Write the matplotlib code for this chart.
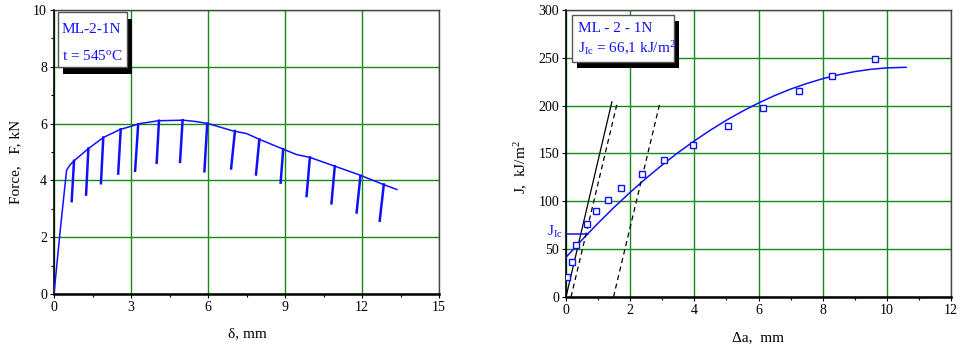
import matplotlib
matplotlib.use("Agg")
import matplotlib.pyplot as plt
from matplotlib.patches import Rectangle

plt.rcParams['font.family'] = ['Liberation Serif', 'DejaVu Serif']
plt.rcParams['mathtext.fontset'] = 'custom'
plt.rcParams['mathtext.rm'] = 'Liberation Serif'
plt.rcParams['mathtext.it'] = 'Liberation Serif:italic'

# --- left chart: force vs displacement ---
delta = [0, 0.23, 0.49, 0.62, 0.78, 1.34, 1.92, 2.57, 3.02, 3.35, 4.06, 5.04,
         5.55, 6.01, 6.98, 7.5, 8.02, 8.93, 9.45, 9.97, 10.94, 11.91, 12.82, 13.36]
force = [0, 2.13, 4.36, 4.54, 4.69, 5.12, 5.51, 5.79, 5.91, 6.0, 6.10, 6.12,
         6.07, 6.0, 5.74, 5.65, 5.44, 5.10, 4.91, 4.81, 4.50, 4.19, 3.86, 3.68]
# unloading segments: top (d, F) -> bottom (d, F)
unl_d_top = [0.78, 1.34, 1.92, 2.6, 3.28, 4.09, 5.01, 5.97, 7.05, 8.0, 8.93, 9.97, 10.94, 11.94, 12.85]
unl_f_top = [4.69, 5.12, 5.51, 5.80, 5.98, 6.10, 6.12, 6.0, 5.74, 5.44, 5.10, 4.81, 4.50, 4.16, 3.86]
unl_d_bot = [0.69, 1.25, 1.83, 2.5, 3.16, 4.0, 4.91, 5.86, 6.9, 7.87, 8.83, 9.84, 10.81, 11.79, 12.69]
unl_f_bot = [3.27, 3.50, 3.90, 4.24, 4.34, 4.62, 4.65, 4.32, 4.42, 4.21, 3.92, 3.45, 3.19, 2.87, 2.58]

# --- right chart: J-R curve ---
da_pts = [0.03, 0.19, 0.31, 0.67, 0.93, 1.31, 1.72, 2.37, 3.04, 3.96, 5.05, 6.13, 7.27, 8.28, 9.63]
j_pts = [20.9, 36.2, 54.0, 76.0, 89.9, 101, 114.3, 128.2, 143.2, 158.9, 178.4, 197.2, 215.7, 231.0, 248.4]
fit_da = [0, 0.5, 1, 1.5, 2, 2.5, 3, 3.5, 4, 4.5, 5, 5.5, 6, 6.5, 7, 7.5, 8, 8.5, 9, 9.5, 10, 10.6]
fit_j = [41.5, 59.8, 77.2, 93.8, 109.4, 124.2, 138.1, 151.1, 163.2, 174.4, 184.8, 194.2,
         202.8, 210.5, 217.3, 223.1, 228.2, 232.3, 235.6, 238.0, 239.5, 240.1]
blunt_da = [0, 1.43]
blunt_j = [0, 204]
off1_da = [0.156, 1.59]
off1_j = [0, 202]
off2_da = [1.48, 2.92]
off2_j = [0, 202]
jic = 66.1
jic_da = [0, 0.7]

blue = '#1010ff'
green = '#138a13'

fig = plt.figure(figsize=(9.6, 3.49), dpi=100)
ax1 = fig.add_axes([54/960, 1-294/349, 385/960, 284/349])
ax2 = fig.add_axes([566/960, 1-297/349, 385/960, 287/349])

def style(ax):
    ax.grid(True, color=green, lw=1.0)
    ax.set_axisbelow(True)
    ax.tick_params(which='major', direction='out', length=3, width=0.8, labelsize=10, pad=2)
    ax.tick_params(which='minor', direction='out', length=2, width=0.8)
    for s in ['top', 'right']:
        ax.spines[s].set_color('#444444')
        ax.spines[s].set_linewidth(1.0)
    ax.spines['left'].set_linewidth(1.2)
    ax.spines['bottom'].set_linewidth(1.8)

# left
ax1.plot(delta, force, color=blue, lw=1.1, zorder=3)
for i in range(len(unl_d_top)):
    ax1.plot([unl_d_top[i], unl_d_bot[i]], [unl_f_top[i], unl_f_bot[i]], color=blue, lw=1.8, zorder=3)
ax1.set_xlim(0, 15)
ax1.set_ylim(0, 10)
ax1.set_xticks([0, 3, 6, 9, 12, 15])
ax1.set_xticks([1.5, 4.5, 7.5, 10.5, 13.5], minor=True)
ax1.set_yticks([0, 2, 4, 6, 8, 10])
ax1.set_yticks([1, 3, 5, 7, 9], minor=True)
style(ax1)

# right
ax2.plot(fit_da, fit_j, color=blue, lw=1.1, zorder=3)
ax2.plot(da_pts, j_pts, ls='none', marker='s', ms=5, mfc='white', mec=blue, mew=1.0, zorder=4)
ax2.plot(blunt_da, blunt_j, color='black', lw=0.9, zorder=3)
ax2.plot(off1_da, off1_j, color='black', lw=0.9, ls=(0, (4, 3)), zorder=3)
ax2.plot(off2_da, off2_j, color='black', lw=0.9, ls=(0, (4, 3)), zorder=3)
ax2.plot(jic_da, [jic, jic], color=blue, lw=1.1, zorder=3)
ax2.set_xlim(0, 12)
ax2.set_ylim(0, 300)
ax2.set_xticks([0, 2, 4, 6, 8, 10, 12])
ax2.set_xticks([1, 3, 5, 7, 9, 11], minor=True)
ax2.set_yticks([0, 50, 100, 150, 200, 250, 300])
style(ax2)

# axis labels
fig.text(247/960, 1-334/349, 'δ, mm', fontsize=11, ha='center', va='center')
fig.text(16/960, 1-162/349, 'Force,   F, kN', fontsize=11, ha='center', va='center', rotation=90)
fig.text(758/960, 1-338/349, 'Δa,  mm', fontsize=11, ha='center', va='center')
fig.text(521/960, 1-167/349, r'J,  kJ/m$^\mathregular{2}$', fontsize=11, ha='center', va='center', rotation=90)
fig.text(547/960, 1-236/349, r'J$_\mathregular{Ic}$', fontsize=11, color=blue, ha='left', va='baseline')

# annotation boxes with shadow
def box(x0, y0, x1, y1, dx, dy):
    fig.patches.append(Rectangle((x0/960 + dx/960, 1-(y1+dy)/349), (x1-x0)/960, (y1-y0)/349,
                                 transform=fig.transFigure, facecolor='black', edgecolor='none', zorder=5))
    fig.patches.append(Rectangle((x0/960, 1-y1/349), (x1-x0)/960, (y1-y0)/349,
                                 transform=fig.transFigure, facecolor='white', edgecolor='#555555', lw=1.0, zorder=6))

box(58, 12, 127, 67, 5, 7)
fig.text(62/960, 1-33/349, 'ML-2-1N', fontsize=11, color=blue, va='baseline', zorder=7)
fig.text(62/960, 1-60/349, r't = 545$^\mathregular{o}$C', fontsize=11, color=blue, va='baseline', zorder=7)

box(572, 15, 674, 62, 5, 6)
fig.text(578/960, 1-32/349, 'ML - 2 - 1N', fontsize=11, color=blue, va='baseline', zorder=7)
fig.text(578/960, 1-53/349, r'J$_\mathregular{Ic}$ = 66,1 kJ/m$^\mathregular{2}$', fontsize=11, color=blue,
         va='baseline', zorder=7)

fig.savefig('out.png', dpi=100)
